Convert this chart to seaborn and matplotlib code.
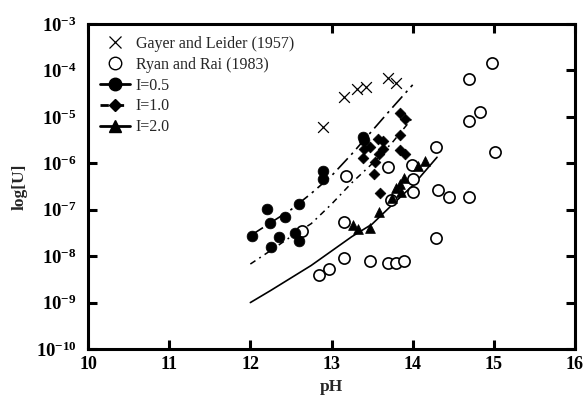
import numpy as np
import pandas as pd
import matplotlib
matplotlib.use("Agg")
import matplotlib.pyplot as plt
from matplotlib.lines import Line2D
from matplotlib.ticker import FixedLocator, FuncFormatter
import seaborn as sns

# Measured data (pH, log10 [U])
gayer_ph = [12.90, 13.15, 13.32, 13.42, 13.70, 13.79]
gayer_logu = [-5.21, -4.58, -4.41, -4.36, -4.17, -4.26]

ryan_ph = [14.98, 14.69, 14.83, 14.69, 14.29, 15.01, 14.31, 14.45, 14.70, 14.29,
           13.99, 14.00, 14.00, 13.70, 13.73, 13.18, 13.15, 12.64, 13.15, 13.47,
           13.70, 13.80, 13.89, 12.97, 12.84]
ryan_logu = [-3.83, -4.19, -4.90, -5.08, -5.64, -5.75, -6.58, -6.72, -6.72, -7.61,
             -6.04, -6.34, -6.61, -6.09, -6.78, -6.28, -7.26, -7.45, -8.03, -8.10,
             -8.15, -8.15, -8.10, -8.28, -8.40]

i05_ph = [12.02, 12.21, 12.24, 12.43, 12.60, 12.35, 12.26, 12.55, 12.60,
          12.90, 12.90, 13.39, 13.40]
i05_logu = [-7.56, -6.99, -7.29, -7.15, -6.88, -7.58, -7.81, -7.51, -7.67,
            -6.16, -6.34, -5.44, -5.50]

i10_ph = [13.85, 13.91, 13.84, 13.57, 13.63, 13.47, 13.40, 13.64, 13.58,
          13.84, 13.90, 13.39, 13.54, 13.52, 13.60]
i10_logu = [-4.91, -5.04, -5.39, -5.48, -5.53, -5.65, -5.70, -5.70, -5.79,
            -5.71, -5.81, -5.88, -5.97, -6.24, -6.63]

i20_ph = [14.15, 14.06, 13.89, 13.84, 13.80, 13.86, 13.74, 13.58, 13.47, 13.33, 13.26]
i20_logu = [-5.95, -6.06, -6.32, -6.45, -6.54, -6.61, -6.75, -7.04, -7.40, -7.42, -7.32]

# Model curves (pH, log10 [U])
fit05_ph = [12.00, 12.25, 12.50, 12.75, 13.00, 13.25, 13.50, 13.75, 14.00]
fit05_logu = [-7.56, -7.28, -7.00, -6.65, -6.27, -5.80, -5.30, -4.80, -4.31]

fit10_ph = [12.00, 12.25, 12.50, 12.75, 13.00, 13.25, 13.50, 13.75, 14.00]
fit10_logu = [-8.17, -7.88, -7.58, -7.30, -6.88, -6.42, -6.01, -5.55, -5.02]

fit20_ph = [12.00, 12.25, 12.50, 12.75, 13.00, 13.25, 13.50, 13.75, 14.00, 14.30]
fit20_logu = [-9.00, -8.74, -8.47, -8.20, -7.89, -7.58, -7.31, -6.89, -6.48, -5.87]

legend_labels = ["Gayer and Leider (1957)", "Ryan and Rai (1983)", "I=0.5", "I=1.0", "I=2.0"]
x_ticks = [10, 11, 12, 13, 14, 15, 16]
y_exponents = [-10, -9, -8, -7, -6, -5, -4, -3]


def frame(ph, logu):
    return pd.DataFrame({"pH": ph, "U": np.power(10.0, logu)})


sns.set_theme(style="ticks")
plt.rcParams["font.family"] = ["Liberation Serif", "DejaVu Serif"]
plt.rcParams["mathtext.fontset"] = "custom"
plt.rcParams["mathtext.rm"] = "Liberation Serif"
plt.rcParams["mathtext.bf"] = "Liberation Serif:bold"

fig = plt.figure(figsize=(5.84, 3.99), dpi=100)
ax = fig.add_axes([0.1507, 0.1253, 0.8339, 0.8145])
ax.set_yscale("log")

# model curves
sns.lineplot(data=frame(fit05_ph, fit05_logu), x="pH", y="U", ax=ax, sort=False,
             estimator=None, color="black", lw=1.2, dashes=False)
sns.lineplot(data=frame(fit10_ph, fit10_logu), x="pH", y="U", ax=ax, sort=False,
             estimator=None, color="black", lw=1.1, dashes=False)
sns.lineplot(data=frame(fit20_ph, fit20_logu), x="pH", y="U", ax=ax, sort=False,
             estimator=None, color="black", lw=1.2, dashes=False)
lines = ax.get_lines()
lines[0].set_dashes([9, 3, 1.5, 3])
lines[1].set_dashes([4, 3, 1.2, 3])

# measurements
sns.scatterplot(data=frame(gayer_ph, gayer_logu), x="pH", y="U", ax=ax, marker="x",
                s=60, color="black", linewidth=0.9, zorder=3)
sns.scatterplot(data=frame(ryan_ph, ryan_logu), x="pH", y="U", ax=ax, marker="o",
                s=65, facecolor="white", edgecolor="black", linewidth=1.2, zorder=3)
sns.scatterplot(data=frame(i05_ph, i05_logu), x="pH", y="U", ax=ax, marker="o",
                s=60, color="black", edgecolor="black", linewidth=0.5, zorder=4)
sns.scatterplot(data=frame(i10_ph, i10_logu), x="pH", y="U", ax=ax, marker="D",
                s=30, color="black", edgecolor="black", linewidth=0.5, zorder=4)
sns.scatterplot(data=frame(i20_ph, i20_logu), x="pH", y="U", ax=ax, marker="^",
                s=50, color="black", edgecolor="black", linewidth=0.5, zorder=4)

ax.set_xlim(10, 16)
ax.set_ylim(1e-10, 1e-3)
ax.xaxis.set_major_locator(FixedLocator(x_ticks))
ax.yaxis.set_major_locator(FixedLocator([10.0 ** e for e in y_exponents]))
ax.yaxis.set_minor_locator(FixedLocator([]))
ax.xaxis.set_major_formatter(FuncFormatter(lambda v, p: f"{int(round(v))}"))
ax.yaxis.set_major_formatter(
    FuncFormatter(lambda v, p: r"$\mathbf{10^{%d}}$" % int(round(np.log10(v)))))

for side in ["left", "right", "top", "bottom"]:
    ax.spines[side].set_visible(True)
    ax.spines[side].set_linewidth(2.2)
    ax.spines[side].set_color("black")
    ax.spines[side].set_zorder(12)
ax.tick_params(axis="both", which="major", direction="in", length=6.5, width=2.2,
               top=True, right=True, colors="black")
ax.tick_params(axis="x", pad=5, labelsize=13)
ax.tick_params(axis="y", pad=8, labelsize=13.5)
for lbl in ax.get_xticklabels():
    lbl.set_fontweight("bold")

ax.set_xlabel("pH", fontsize=12.5, fontweight="bold", labelpad=4)
ax.set_ylabel("log[U]", fontsize=12.5, fontweight="bold", labelpad=6)
ax.grid(False)

handles = [
    Line2D([], [], ls="none", marker="x", ms=8, mew=0.9, color="black"),
    Line2D([], [], ls="none", marker="o", ms=9, mfc="white", mec="black", mew=1.0),
    Line2D([], [], ls="-", lw=2, marker="o", ms=9, color="black"),
    Line2D([], [], ls="--", lw=2, dashes=[3, 2.5], marker="D", ms=6, color="black"),
    Line2D([], [], ls="-", lw=2, marker="^", ms=8, color="black"),
]
leg = ax.legend(handles, legend_labels, loc="upper left", bbox_to_anchor=(0.0, 1.0),
                frameon=True, fancybox=False, framealpha=1.0, facecolor="white",
                edgecolor="none", fontsize=11.5, handlelength=1.9, handletextpad=0.35,
                labelspacing=0.3, borderpad=0.75, borderaxespad=0.0)
leg.set_zorder(10)

fig.savefig("out.png", dpi=100)
